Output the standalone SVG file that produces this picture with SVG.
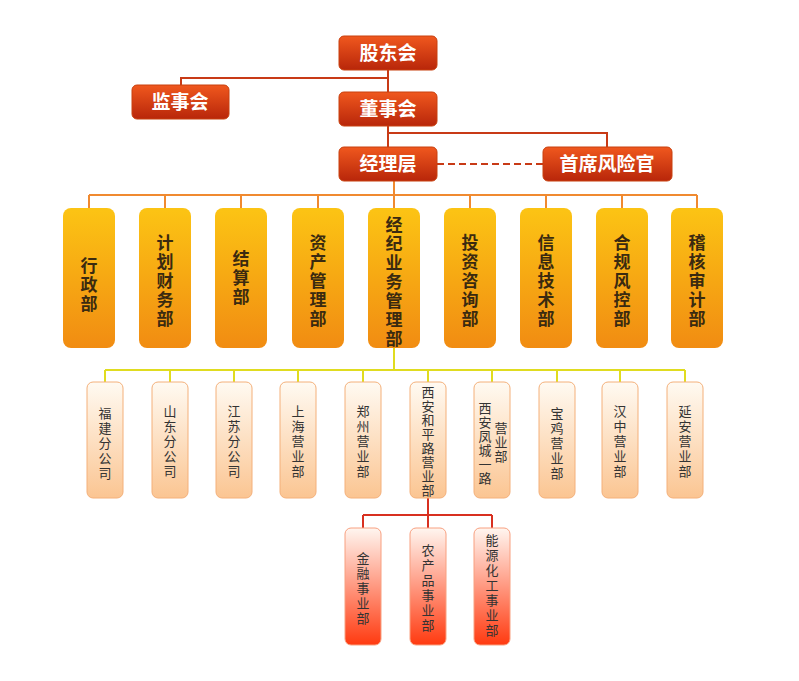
<svg xmlns="http://www.w3.org/2000/svg" width="799" height="681" viewBox="0 0 799 681">
<defs>
<linearGradient id="gr" x1="0" y1="0" x2="0" y2="1"><stop offset="0" stop-color="#f0581e"/><stop offset="1" stop-color="#b8260a"/></linearGradient>
<linearGradient id="go" x1="0" y1="0" x2="0" y2="1"><stop offset="0" stop-color="#fcc414"/><stop offset="1" stop-color="#f18c12"/></linearGradient>
<linearGradient id="gl" x1="0" y1="0" x2="0" y2="1"><stop offset="0" stop-color="#fffaf2"/><stop offset="1" stop-color="#fbc592"/></linearGradient>
<linearGradient id="gb" x1="0" y1="0" x2="0" y2="1"><stop offset="0" stop-color="#fff6f0"/><stop offset="1" stop-color="#ff3a10"/></linearGradient>
<style>
.r{fill:url(#gr);stroke:#c8400e;stroke-width:1}
.o{fill:url(#go)}
.l{fill:url(#gl);stroke:#f4b07a;stroke-width:1}
.b{fill:url(#gb);stroke:#f8a080;stroke-width:1}
text{font-family:"Noto Sans CJK SC",sans-serif;text-anchor:middle}
.tr{fill:#fff;font-size:19px;font-weight:bold}
.to{fill:#3a2a10;font-size:17px;font-weight:bold}
.ts{fill:#333;font-size:13px}
.c{fill:none;stroke-width:2}
</style>
</defs>
<g id="connectors">
<path class="c" stroke="#c83a16" d="M388 70V92M388 78H181V85M388 126V147M388 133H607V147"/>
<path class="c" stroke="#c83a16" stroke-dasharray="7,4" d="M437 164H543"/>
<path class="c" stroke="#f08a30" d="M394 181V208M89 195H697M89 195V208M165 195V208M241 195V208M318 195V208M470 195V208M546 195V208M622 195V208M697 195V208"/>
<path class="c" stroke="#e0dc20" d="M394 348V370M105 370H685M105 370V382M170 370V382M234 370V382M298 370V382M363 370V382M428 370V382M492 370V382M557 370V382M620 370V382M685 370V382"/>
<path class="c" stroke="#d83020" d="M428 498V528M363 515H492M363 515V528M492 515V528"/>
</g>
<g id="n1"><rect class="r" x="339" y="36" width="98" height="34" rx="5"/><text class="tr" x="388" y="60">股东会</text></g>
<g id="n2"><rect class="r" x="132" y="85" width="97" height="34" rx="5"/><text class="tr" x="180" y="109">监事会</text></g>
<g id="n3"><rect class="r" x="339" y="92" width="98" height="34" rx="5"/><text class="tr" x="388" y="116">董事会</text></g>
<g id="n4"><rect class="r" x="339" y="147" width="98" height="34" rx="5"/><text class="tr" x="388" y="171">经理层</text></g>
<g id="n5"><rect class="r" x="543" y="147" width="129" height="34" rx="5"/><text class="tr" x="607" y="171">首席风险官</text></g>

<g id="d1"><rect class="o" x="63" y="208" width="52" height="140" rx="8"/><text class="to" x="89" y="272">行</text><text class="to" x="89" y="291">政</text><text class="to" x="89" y="310">部</text></g>
<g id="d2"><rect class="o" x="139" y="208" width="52" height="140" rx="8"/><text class="to" x="165" y="249">计</text><text class="to" x="165" y="268">划</text><text class="to" x="165" y="287">财</text><text class="to" x="165" y="306">务</text><text class="to" x="165" y="325">部</text></g>
<g id="d3"><rect class="o" x="215" y="208" width="52" height="140" rx="8"/><text class="to" x="241" y="265">结</text><text class="to" x="241" y="284">算</text><text class="to" x="241" y="303">部</text></g>
<g id="d4"><rect class="o" x="292" y="208" width="52" height="140" rx="8"/><text class="to" x="318" y="249">资</text><text class="to" x="318" y="268">产</text><text class="to" x="318" y="287">管</text><text class="to" x="318" y="306">理</text><text class="to" x="318" y="325">部</text></g>
<g id="d5"><rect class="o" x="368" y="208" width="52" height="140" rx="8"/><text class="to" x="394" y="231">经</text><text class="to" x="394" y="250">纪</text><text class="to" x="394" y="269">业</text><text class="to" x="394" y="288">务</text><text class="to" x="394" y="307">管</text><text class="to" x="394" y="326">理</text><text class="to" x="394" y="345">部</text></g>
<g id="d6"><rect class="o" x="444" y="208" width="52" height="140" rx="8"/><text class="to" x="470" y="249">投</text><text class="to" x="470" y="268">资</text><text class="to" x="470" y="287">咨</text><text class="to" x="470" y="306">询</text><text class="to" x="470" y="325">部</text></g>
<g id="d7"><rect class="o" x="520" y="208" width="52" height="140" rx="8"/><text class="to" x="546" y="249">信</text><text class="to" x="546" y="268">息</text><text class="to" x="546" y="287">技</text><text class="to" x="546" y="306">术</text><text class="to" x="546" y="325">部</text></g>
<g id="d8"><rect class="o" x="596" y="208" width="52" height="140" rx="8"/><text class="to" x="622" y="249">合</text><text class="to" x="622" y="268">规</text><text class="to" x="622" y="287">风</text><text class="to" x="622" y="306">控</text><text class="to" x="622" y="325">部</text></g>
<g id="d9"><rect class="o" x="671" y="208" width="52" height="140" rx="8"/><text class="to" x="697" y="249">稽</text><text class="to" x="697" y="268">核</text><text class="to" x="697" y="287">审</text><text class="to" x="697" y="306">计</text><text class="to" x="697" y="325">部</text></g>

<g id="s1"><rect class="l" x="87" y="382" width="36" height="116" rx="6"/><text class="ts" x="105" y="418">福</text><text class="ts" x="105" y="433">建</text><text class="ts" x="105" y="448">分</text><text class="ts" x="105" y="463">公</text><text class="ts" x="105" y="478">司</text></g>
<g id="s2"><rect class="l" x="152" y="382" width="36" height="116" rx="6"/><text class="ts" x="170" y="416">山</text><text class="ts" x="170" y="431">东</text><text class="ts" x="170" y="446">分</text><text class="ts" x="170" y="461">公</text><text class="ts" x="170" y="476">司</text></g>
<g id="s3"><rect class="l" x="216" y="382" width="36" height="116" rx="6"/><text class="ts" x="234" y="416">江</text><text class="ts" x="234" y="431">苏</text><text class="ts" x="234" y="446">分</text><text class="ts" x="234" y="461">公</text><text class="ts" x="234" y="476">司</text></g>
<g id="s4"><rect class="l" x="280" y="382" width="36" height="116" rx="6"/><text class="ts" x="298" y="416">上</text><text class="ts" x="298" y="431">海</text><text class="ts" x="298" y="446">营</text><text class="ts" x="298" y="461">业</text><text class="ts" x="298" y="476">部</text></g>
<g id="s5"><rect class="l" x="345" y="382" width="36" height="116" rx="6"/><text class="ts" x="363" y="416">郑</text><text class="ts" x="363" y="431">州</text><text class="ts" x="363" y="446">营</text><text class="ts" x="363" y="461">业</text><text class="ts" x="363" y="476">部</text></g>
<g id="s6"><rect class="l" x="410" y="382" width="36" height="116" rx="6"/><text class="ts" x="428" y="397">西</text><text class="ts" x="428" y="411">安</text><text class="ts" x="428" y="425">和</text><text class="ts" x="428" y="439">平</text><text class="ts" x="428" y="453">路</text><text class="ts" x="428" y="467">营</text><text class="ts" x="428" y="481">业</text><text class="ts" x="428" y="495">部</text></g>
<g id="s7"><rect class="l" x="474" y="382" width="36" height="116" rx="6"/><text class="ts" x="485" y="413">西</text><text class="ts" x="485" y="427">安</text><text class="ts" x="485" y="441">凤</text><text class="ts" x="485" y="455">城</text><text class="ts" x="485" y="469">一</text><text class="ts" x="485" y="483">路</text><text class="ts" x="501" y="433">营</text><text class="ts" x="501" y="447">业</text><text class="ts" x="501" y="461">部</text></g>
<g id="s8"><rect class="l" x="539" y="382" width="36" height="116" rx="6"/><text class="ts" x="557" y="418">宝</text><text class="ts" x="557" y="433">鸡</text><text class="ts" x="557" y="448">营</text><text class="ts" x="557" y="463">业</text><text class="ts" x="557" y="478">部</text></g>
<g id="s9"><rect class="l" x="602" y="382" width="36" height="116" rx="6"/><text class="ts" x="620" y="416">汉</text><text class="ts" x="620" y="431">中</text><text class="ts" x="620" y="446">营</text><text class="ts" x="620" y="461">业</text><text class="ts" x="620" y="476">部</text></g>
<g id="s10"><rect class="l" x="667" y="382" width="36" height="116" rx="6"/><text class="ts" x="685" y="416">延</text><text class="ts" x="685" y="431">安</text><text class="ts" x="685" y="446">营</text><text class="ts" x="685" y="461">业</text><text class="ts" x="685" y="476">部</text></g>

<g id="b1"><rect class="b" x="345" y="528" width="36" height="117" rx="6"/><text class="ts" x="363" y="563">金</text><text class="ts" x="363" y="578">融</text><text class="ts" x="363" y="593">事</text><text class="ts" x="363" y="608">业</text><text class="ts" x="363" y="623">部</text></g>
<g id="b2"><rect class="b" x="410" y="528" width="36" height="117" rx="6"/><text class="ts" x="428" y="555">农</text><text class="ts" x="428" y="570">产</text><text class="ts" x="428" y="585">品</text><text class="ts" x="428" y="600">事</text><text class="ts" x="428" y="615">业</text><text class="ts" x="428" y="630">部</text></g>
<g id="b3"><rect class="b" x="474" y="528" width="36" height="117" rx="6"/><text class="ts" x="492" y="545">能</text><text class="ts" x="492" y="560">源</text><text class="ts" x="492" y="575">化</text><text class="ts" x="492" y="590">工</text><text class="ts" x="492" y="605">事</text><text class="ts" x="492" y="620">业</text><text class="ts" x="492" y="635">部</text></g>
</svg>
